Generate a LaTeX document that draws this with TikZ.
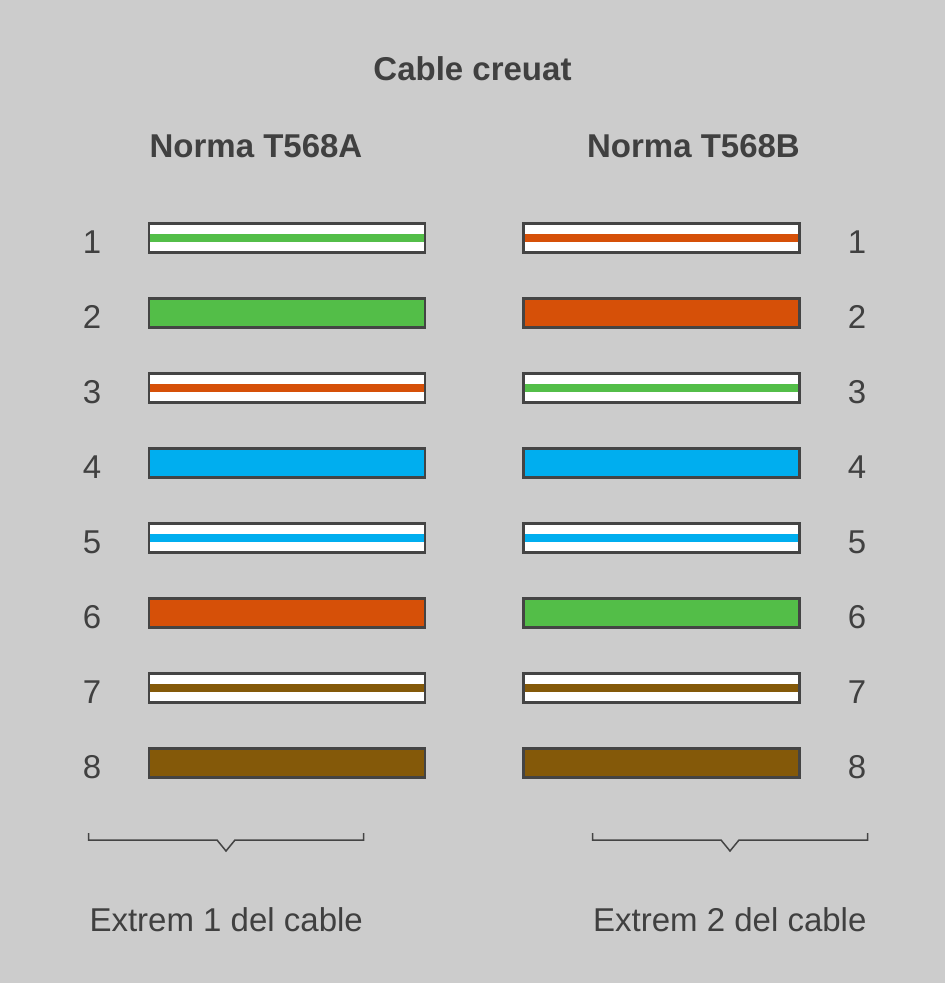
\documentclass[tikz,border=0pt]{standalone}
\usepackage{fontspec}
\setmainfont{Liberation Sans}
\definecolor{bg}{HTML}{CCCCCC}
\definecolor{ink}{HTML}{404040}
\definecolor{edge}{HTML}{444444}
\definecolor{pgreen}{HTML}{53BE48}
\definecolor{porange}{HTML}{D65008}
\definecolor{pblue}{HTML}{00AEEF}
\definecolor{pbrown}{HTML}{845909}
\tikzset{
    wire/.style={draw=edge,line width=2.2pt,minimum width=276pt,
        minimum height=29pt,inner sep=0pt,outer sep=0pt},
    solidwire/.style={wire,fill=#1},
    stripewire/.style={wire,fill=white,
        path picture={\fill[fill=#1]
            ([yshift=4pt]path picture bounding box.west) rectangle
            ([yshift=-4pt]path picture bounding box.east);}},
    pin/.style={anchor=base,text=ink,font=\fontsize{33}{38}\selectfont},
    heading/.style={anchor=base,text=ink,
        font=\bfseries\fontsize{33}{38}\selectfont},
    brace/.style={draw=edge,line width=1.5pt},
}
\begin{document}
\begin{tikzpicture}[x=1pt,y=-1pt]
    \useasboundingbox[fill=bg] (0,0) rectangle (945,983);

    \node[heading] (title) at (472.5,80) {Cable creuat};
    \node[heading] (norm-a) at (256,157) {Norma T568A};
    \node[heading] (norm-b) at (693.5,157) {Norma T568B};

    % extrem 1: T568A
    \node[stripewire=pgreen]  (a1) at (287,238) {};
    \node[solidwire=pgreen]   (a2) at (287,313) {};
    \node[stripewire=porange] (a3) at (287,388) {};
    \node[solidwire=pblue]    (a4) at (287,463) {};
    \node[stripewire=pblue]   (a5) at (287,538) {};
    \node[solidwire=porange]  (a6) at (287,613) {};
    \node[stripewire=pbrown]  (a7) at (287,688) {};
    \node[solidwire=pbrown]   (a8) at (287,763) {};

    % extrem 2: T568B
    \node[stripewire=porange] (b1) at (661.5,238) {};
    \node[solidwire=porange]  (b2) at (661.5,313) {};
    \node[stripewire=pgreen]  (b3) at (661.5,388) {};
    \node[solidwire=pblue]    (b4) at (661.5,463) {};
    \node[stripewire=pblue]   (b5) at (661.5,538) {};
    \node[solidwire=pgreen]   (b6) at (661.5,613) {};
    \node[stripewire=pbrown]  (b7) at (661.5,688) {};
    \node[solidwire=pbrown]   (b8) at (661.5,763) {};

    \node[pin] (na1) at (92,253) {1};
    \node[pin] (na2) at (92,328) {2};
    \node[pin] (na3) at (92,403) {3};
    \node[pin] (na4) at (92,478) {4};
    \node[pin] (na5) at (92,553) {5};
    \node[pin] (na6) at (92,628) {6};
    \node[pin] (na7) at (92,703) {7};
    \node[pin] (na8) at (92,778) {8};

    \node[pin] (nb1) at (857,253) {1};
    \node[pin] (nb2) at (857,328) {2};
    \node[pin] (nb3) at (857,403) {3};
    \node[pin] (nb4) at (857,478) {4};
    \node[pin] (nb5) at (857,553) {5};
    \node[pin] (nb6) at (857,628) {6};
    \node[pin] (nb7) at (857,703) {7};
    \node[pin] (nb8) at (857,778) {8};

    \draw[brace] (88.5,833) -- (88.5,840) -- (217,840) -- (226,851)
        -- (235,840) -- (363.5,840) -- (363.5,833);
    \draw[brace] (592.5,833) -- (592.5,840) -- (721,840) -- (730,851)
        -- (739,840) -- (867.5,840) -- (867.5,833);

    \node[pin,anchor=base west] (end-1) at (86,931) {Extrem 1 del cable};
    \node[pin,anchor=base east] (end-2) at (870,931) {Extrem 2 del cable};
\end{tikzpicture}
\end{document}
